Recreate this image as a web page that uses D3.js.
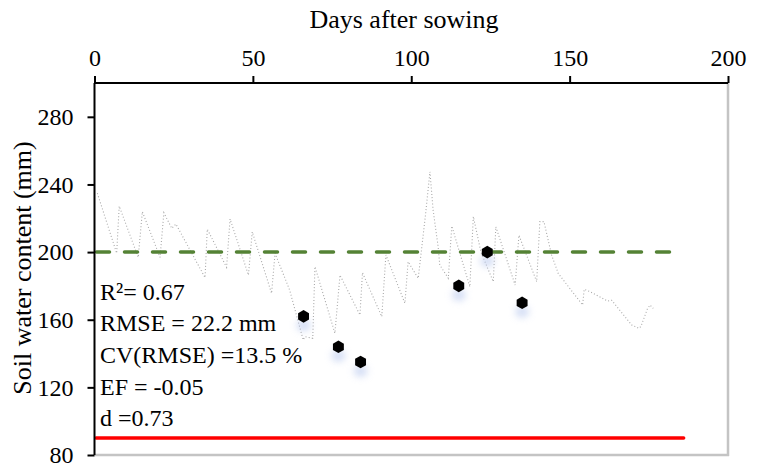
<!DOCTYPE html>
<html>
<head>
<meta charset="utf-8">
<script src="https://cdn.jsdelivr.net/npm/d3@7"></script>
<style>
  html, body { margin: 0; padding: 0; background: #fff; }
  svg { display: block; }
  text { font-family: "Liberation Serif", "DejaVu Serif", serif; fill: #000; }
</style>
</head>
<body>
<svg id="chart" width="762" height="470"></svg>
<script>
// ---- data ----
const xTicks = [0, 50, 100, 150, 200];
const yTicks = [80, 120, 160, 200, 240, 280];

// simulated soil water content (dotted line)
const simDays = [0.9, 7, 7.8, 13.8, 15.1, 20.7, 21.9, 24.4, 25.7, 34.9, 35.6, 41.7, 42.8, 48.6, 49.8, 55.9, 57, 61.6, 65.9, 66.5, 68.9, 69.6, 75.9, 77.5, 83.8, 84.6, 90.7, 92, 98, 99, 102.2, 104.5, 105.9, 106.9, 108.5, 109, 111.7, 112.8, 118.5, 119.6, 122, 125.9, 126.7, 132.8, 134, 139.6, 140.6, 141.9, 144.3, 146.4, 154.1, 154.6, 156.4, 162, 163.3, 169.6, 171.9, 172.5, 174.5, 175.4, 176.4];
const simSWC  = [234.8, 199.3, 227.2, 196.9, 223.9, 196.9, 223.3, 214, 216.6, 184.9, 213.6, 191, 219.6, 186.4, 212, 175.6, 199.3, 177.6, 148, 150, 149, 191.4, 152, 186.4, 162.8, 187.8, 161.8, 198.3, 169.7, 194.3, 184.5, 222, 247.5, 224.9, 203, 192.4, 184.5, 215.4, 179.5, 221, 200, 182.5, 215, 180.5, 210, 182.5, 218, 218, 198.3, 187.4, 168.7, 178, 176.6, 171, 171.5, 156.9, 154.9, 156, 166.2, 168.7, 166.7];

// observed soil water content (points)
const obsDays = [66, 77, 84, 115, 124, 135];
const obsSWC  = [162, 144, 135, 180, 200, 170];

// reference levels
const fcLevel = 200, fcDays = [0, 182];
const pwpLevel = 90, pwpDays = [0.5, 186];

const statLines = ["R\u00B2= 0.67", "RMSE = 22.2 mm", "CV(RMSE) =13.5 %", "EF = -0.05", "d =0.73"];

// ---- layout ----
const FONT = '"Liberation Serif", "DejaVu Serif", serif';
const svg = d3.select("#chart");
const L = 94.5, R = 728, T = 83, B = 455;
const x = d3.scaleLinear().domain([0, 200]).range([L, R]);
const y = d3.scaleLinear().domain([80, 300]).range([B, T]);

// shadow filter
const defs = svg.append("defs");
defs.append("filter").attr("id", "blur").attr("x", "-100%").attr("y", "-100%").attr("width", "300%").attr("height", "300%")
  .append("feGaussianBlur").attr("stdDeviation", 3.5);

// frame (right & bottom light gray)
svg.append("line").attr("x1", R).attr("x2", R).attr("y1", T).attr("y2", B + 1)
  .attr("stroke", "#c4c4c4").attr("stroke-width", 2.5);
svg.append("line").attr("x1", L).attr("x2", R + 1).attr("y1", B).attr("y2", B)
  .attr("stroke", "#c4c4c4").attr("stroke-width", 2.5);

// simulated dotted line
const sim = simDays.map((d, i) => [d, simSWC[i]]);
svg.append("path").datum(sim)
  .attr("d", d3.line().x(d => x(d[0])).y(d => y(d[1])))
  .attr("fill", "none").attr("stroke", "#a8a8a8").attr("stroke-width", 1.1)
  .attr("stroke-dasharray", "1,2.2");

// field capacity dashed green
svg.append("line").attr("x1", x(fcDays[0])).attr("x2", x(fcDays[1]))
  .attr("y1", y(fcLevel)).attr("y2", y(fcLevel))
  .attr("stroke", "#548235").attr("stroke-width", 3.5).attr("stroke-linecap", "round")
  .attr("stroke-dasharray", "13,15").attr("stroke-dashoffset", -2);

// wilting point red
svg.append("line").attr("x1", x(pwpDays[0])).attr("x2", x(pwpDays[1]))
  .attr("y1", y(pwpLevel)).attr("y2", y(pwpLevel))
  .attr("stroke", "#ff0000").attr("stroke-width", 3.5).attr("stroke-linecap", "round");

// observed points
const obs = obsDays.map((d, i) => [d, obsSWC[i]]);
svg.append("g").selectAll("ellipse").data(obs).join("ellipse")
  .attr("cx", d => x(d[0])).attr("cy", d => y(d[1]) + 9)
  .attr("rx", 7).attr("ry", 6).attr("fill", "#b8c8ee").attr("opacity", 0.6)
  .attr("filter", "url(#blur)");
const hex = r => d3.range(6).map(k => {
  const a = Math.PI / 3 * k + Math.PI / 6;
  return [r * Math.cos(a), r * Math.sin(a)];
});
svg.append("g").selectAll("path").data(obs).join("path")
  .attr("transform", d => `translate(${x(d[0])},${y(d[1])})`)
  .attr("d", "M" + hex(6.3).join("L") + "Z")
  .attr("fill", "#000");

// axes
const xAxis = d3.axisTop(x).tickValues(xTicks).tickSize(7).tickPadding(10);
const gx = svg.append("g").attr("transform", `translate(0,${T})`).call(xAxis);
const yAxis = d3.axisLeft(y).tickValues(yTicks).tickSize(7).tickPadding(14);
const gy = svg.append("g").attr("transform", `translate(${L},0)`).call(yAxis);
[gx, gy].forEach(g => {
  g.attr("font-family", FONT);
  g.select(".domain").attr("stroke", "#000").attr("stroke-width", 2);
  g.selectAll(".tick line").attr("stroke", "#000").attr("stroke-width", 2);
  g.selectAll(".tick text").style("font-family", FONT)
    .style("font-size", "24px").attr("fill", "#000");
});
gy.select(".domain").attr("d", `M0,${B}V${T}`);
gx.select(".domain").attr("d", `M${L},0H${R}`);

// axis titles
svg.append("text").attr("x", 404).attr("y", 28).attr("text-anchor", "middle")
  .style("font-family", FONT).style("font-size", "26px").text("Days after sowing");
svg.append("text").attr("transform", `translate(31,268) rotate(-90)`).attr("text-anchor", "middle")
  .style("font-family", FONT).style("font-size", "26px").text("Soil water content (mm)");

// statistics text
svg.append("g").selectAll("text").data(statLines).join("text")
  .attr("x", 100).attr("y", (d, i) => 299.5 + i * 31.7)
  .style("font-family", FONT).style("font-size", "24px").text(d => d);
</script>
</body>
</html>
